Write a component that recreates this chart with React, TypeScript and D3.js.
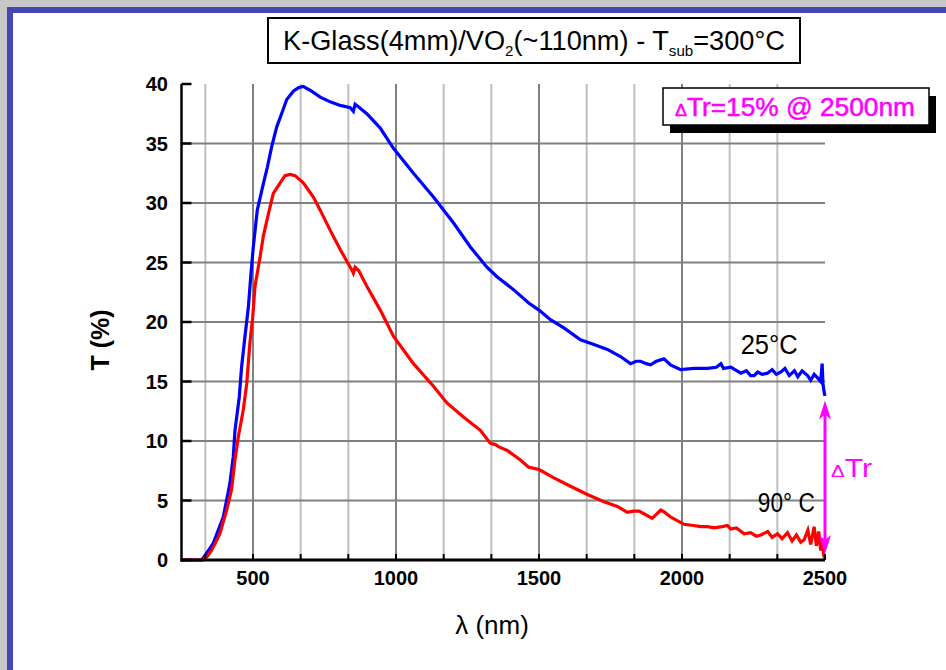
import React from "react";
import * as d3 from "d3";

// ---- data ----
const blueLambda = [250,320,330,361,396,419,431,437,452,460,472,484,492,501,515,534,550,565,583,600,618,641,660,676,690,705,735,770,805,840,851,857,863,898,945,991,1061,1131,1202,1260,1318,1353,1412,1464,1500,1540,1587,1645,1692,1739,1785,1820,1840,1855,1875,1890,1910,1937,1960,1995,2042,2089,2120,2136,2145,2171,2185,2206,2225,2240,2252,2265,2280,2299,2315,2330,2346,2360,2375,2393,2405,2420,2439,2450,2462,2474,2485,2490,2493,2497,2500];
const blueT = [0,0,0.3,1.4,3.6,6.4,8.7,10.9,13.7,16.2,18.8,21.3,23.8,26.3,29.4,31.4,33.0,34.7,36.4,37.5,38.7,39.4,39.7,39.8,39.6,39.4,38.9,38.5,38.2,38.0,37.7,38.3,38.2,37.5,36.3,34.6,32.5,30.5,28.3,26.3,24.6,23.8,22.7,21.6,21.0,20.2,19.5,18.5,18.1,17.7,17.1,16.5,16.7,16.7,16.5,16.4,16.7,16.9,16.4,16.0,16.1,16.1,16.2,16.5,16.1,16.2,16.0,15.7,15.9,15.5,15.5,15.8,15.6,15.7,16.0,15.6,15.8,16.1,15.5,15.9,15.4,15.9,15.5,15.1,15.6,15.3,15.0,16.5,14.8,14.1,13.8];

const redLambda = [250,325,340,355,370,384,408,425,437,449,466,478,489,499,507,525,536,554,571,595,612,630,647,676,711,735,770,805,828,845,851,857,870,898,945,991,1061,1131,1178,1237,1295,1330,1348,1360,1389,1435,1464,1500,1552,1610,1669,1727,1774,1809,1830,1850,1873,1896,1926,1940,1961,2007,2040,2066,2090,2112,2140,2159,2170,2190,2217,2240,2260,2276,2300,2315,2334,2350,2369,2385,2400,2415,2427,2440,2450,2462,2470,2478,2485,2490,2495,2500];
const redT = [0,0,0.3,0.8,1.5,2.2,4.2,5.9,8.4,10.4,12.6,14.8,18.2,20.4,23.0,25.5,27.2,29.1,30.8,31.7,32.3,32.4,32.3,31.7,30.5,29.4,27.7,26.1,25.1,24.4,24.1,24.6,24.3,23.0,21.0,18.8,16.5,14.6,13.2,12.0,10.9,9.8,9.7,9.5,9.2,8.4,7.8,7.6,6.9,6.2,5.5,4.9,4.5,4.0,4.1,4.1,3.8,3.5,4.2,4.0,3.6,3.0,2.9,2.8,2.8,2.7,2.8,2.9,2.6,2.7,2.2,2.3,2.0,2.1,2.4,1.9,2.2,1.8,2.3,1.6,2.1,1.5,1.7,2.5,1.3,2.8,1.2,2.4,0.8,1.8,0.4,0.1];

const xMajorTicks = [500, 1000, 1500, 2000, 2500];
const xMinorTicks = [1000 / 3, 2000 / 3, 2500 / 3, 3500 / 3, 4000 / 3, 5000 / 3, 5500 / 3, 6500 / 3, 7000 / 3];
const yTicks = [0, 5, 10, 15, 20, 25, 30, 35, 40];

const titleMain = "K-Glass(4mm)/VO";
const titleMid = "(~110nm) - T";
const titleEnd = "=300°C";
const deltaText = "=15% @ 2500nm";
const label25 = "25°C";
const label90 = "90° C";
const labelPos25 = [2205, 17.3];
const labelPos90 = [2265, 4.0];
const arrowLambda = 2500;
const arrowTop = 13.4;
const arrowBottom = 0.5;

const FONT = "'Liberation Sans', Arial, Helvetica, sans-serif";

export default function App() {
  const W = 946, H = 670;
  const x = d3.scaleLinear().domain([250, 2500]).range([181.5, 825]);
  const y = d3.scaleLinear().domain([0, 40]).range([560, 84]);

  const blueData = blueLambda.map((l, i) => [l, blueT[i]] as [number, number]);
  const redData = redLambda.map((l, i) => [l, redT[i]] as [number, number]);
  const line = d3.line<[number, number]>().x(d => x(d[0])).y(d => y(d[1]));

  const ax = x(arrowLambda);
  const aTop = y(arrowTop);
  const aBot = y(arrowBottom);

  return (
    <svg width={W} height={H} style={{ position: "absolute", left: 0, top: 0, background: "#fff" }}>
      {/* frame */}
      <rect x={0} y={0} width={W} height={H} fill="#ffffff" />
      <rect x={0} y={0} width={W} height={7} fill="#c8c8c8" />
      <rect x={0} y={0} width={7} height={H} fill="#c8c8c8" />
      <rect x={7} y={7} width={W - 7} height={6} fill="#4646b4" />
      <rect x={7} y={7} width={6} height={H - 7} fill="#4646b4" />

      {/* title box */}
      <rect x={268} y={18} width={532} height={45} fill="#fff" stroke="#000" strokeWidth={2} />
      <text x={534} y={50} textAnchor="middle" fontFamily={FONT} fontSize={27} fill="#000" textLength={502} lengthAdjust="spacingAndGlyphs">
        {titleMain}
        <tspan fontSize={15} dy={6}>2</tspan>
        <tspan dy={-6}>{titleMid}</tspan>
        <tspan fontSize={15} dy={6}>sub</tspan>
        <tspan dy={-6}>{titleEnd}</tspan>
      </text>

      {/* grid */}
      {xMinorTicks.map(t => (
        <line key={"mn" + t} x1={x(t)} x2={x(t)} y1={y(40)} y2={y(0)} stroke="#c0c0c0" strokeWidth={2} />
      ))}
      {xMajorTicks.filter(t => t < 2500).map(t => (
        <line key={"mj" + t} x1={x(t)} x2={x(t)} y1={y(40)} y2={y(0)} stroke="#808080" strokeWidth={2} />
      ))}
      {yTicks.filter(t => t > 0 && t < 40).map(t => (
        <line key={"h" + t} x1={x(250)} x2={x(2500)} y1={y(t)} y2={y(t)} stroke="#808080" strokeWidth={2} />
      ))}

      {/* curves */}
      <path d={line(blueData) || ""} fill="none" stroke="#0000ff" strokeWidth={3.2} strokeLinejoin="miter" />
      <path d={line(redData) || ""} fill="none" stroke="#ff0000" strokeWidth={3.2} strokeLinejoin="miter" />

      {/* axes */}
      <line x1={x(250)} x2={x(250)} y1={y(40)} y2={y(0) + 1.5} stroke="#000" strokeWidth={2.5} />
      <line x1={x(250) - 1} x2={x(2500)} y1={y(0)} y2={y(0)} stroke="#000" strokeWidth={3} />
      {yTicks.map(t => (
        <line key={"yt" + t} x1={x(250)} x2={x(250) + 10} y1={y(t)} y2={y(t)} stroke="#000" strokeWidth={2.5} />
      ))}
      {xMinorTicks.concat(xMajorTicks).map(t => (
        <line key={"xt" + t} x1={x(t)} x2={x(t)} y1={y(0)} y2={y(0) - 6} stroke="#000" strokeWidth={2} />
      ))}

      {/* tick labels */}
      {yTicks.map(t => (
        <text key={"yl" + t} x={168} y={y(t)} dy="0.36em" textAnchor="end" fontFamily={FONT} fontWeight="bold" fontSize={20} fill="#000">{t}</text>
      ))}
      {xMajorTicks.map(t => (
        <text key={"xl" + t} x={x(t)} y={585} textAnchor="middle" fontFamily={FONT} fontWeight="bold" fontSize={20} fill="#000">{t}</text>
      ))}

      {/* axis titles */}
      <text transform="translate(109,340) rotate(-90)" textAnchor="middle" fontFamily={FONT} fontWeight="bold" fontSize={25} fill="#000">T (%)</text>
      <text x={492} y={634} textAnchor="middle" fontFamily={FONT} fontSize={26} fill="#000">λ (nm)</text>

      {/* curve labels */}
      <text x={x(labelPos25[0])} y={y(labelPos25[1])} fontFamily={FONT} fontSize={27} fill="#000" textLength={57} lengthAdjust="spacingAndGlyphs">{label25}</text>
      <text x={x(labelPos90[0])} y={y(labelPos90[1])} fontFamily={FONT} fontSize={27} fill="#000" textLength={57} lengthAdjust="spacingAndGlyphs">{label90}</text>

      {/* delta arrow */}
      <line x1={ax} x2={ax} y1={aTop + 8} y2={aBot - 8} stroke="#ff00ff" strokeWidth={3} />
      <path d={`M${ax},${aTop} L${ax - 6},${aTop + 19} L${ax},${aTop + 14} L${ax + 6},${aTop + 19} Z`} fill="#ff00ff" />
      <path d={`M${ax},${aBot} L${ax - 6},${aBot - 19} L${ax},${aBot - 14} L${ax + 6},${aBot - 19} Z`} fill="#ff00ff" />
      <text x={831} y={477} fontFamily={FONT} fontSize={25} fill="#ff00ff" textLength={41} lengthAdjust="spacingAndGlyphs">
        <tspan fontSize={17}>Δ</tspan>Tr
      </text>

      {/* delta box */}
      <rect x={670} y={96} width={266} height={37} fill="#000" />
      <rect x={663} y={88} width={266} height={37} fill="#fff" stroke="#000" strokeWidth={1.5} />
      <text x={675} y={116} fontFamily={FONT} fontSize={25} fill="#ff00ff" stroke="#ff00ff" strokeWidth={0.5} textLength={240} lengthAdjust="spacingAndGlyphs">
        <tspan fontSize={17}>Δ</tspan>Tr{deltaText}
      </text>
    </svg>
  );
}
